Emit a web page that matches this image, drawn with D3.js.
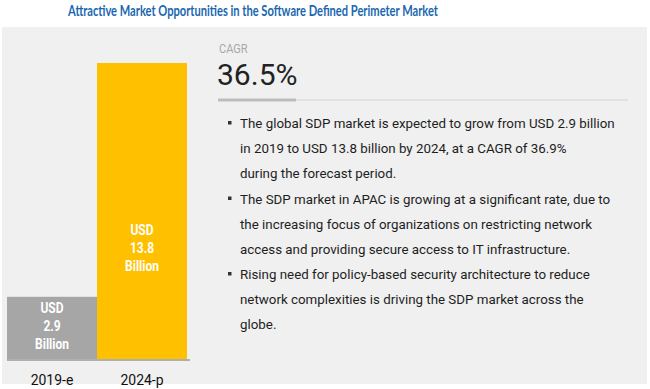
<!DOCTYPE html>
<html><head><meta charset="utf-8">
<script src="https://cdn.jsdelivr.net/npm/d3@7"></script>
<style>body{margin:0;background:#fff;}svg{display:block;}</style>
</head><body>
<svg id="c" width="650" height="389"></svg>
<script>
const title = "Attractive Market Opportunities in the Software Defined Perimeter Market";
const categories = ["2019-e", "2024-p"];
const values = [2.9, 13.8];
const valueLabels = [["USD", "2.9", "Billion"], ["USD", "13.8", "Billion"]];
const barColors = ["#a6a6a6", "#ffc000"];
const cagrLabel = "CAGR";
const cagrValue = "36.5%";
const bullets = [
  ["The global SDP market is expected to grow from USD 2.9 billion", "in 2019 to USD 13.8 billion by 2024, at a CAGR of 36.9%", "during the forecast period."],
  ["The SDP market in APAC is growing at a significant rate, due to", "the increasing focus of organizations on restricting network", "access and providing secure access to IT infrastructure."],
  ["Rising need for policy-based security architecture to reduce", "network complexities is driving the SDP market across the", "globe."]
];

const svg = d3.select("#c");
function fit(sel, w) {
  const n = sel.node();
  const fs = parseFloat(sel.attr("font-size"));
  const cur = n.getComputedTextLength();
  sel.attr("font-size", (fs * w / cur).toFixed(2));
}
function squeeze(sel, f) {
  const w = sel.node().getComputedTextLength();
  sel.attr("textLength", (w * f).toFixed(2)).attr("lengthAdjust", "spacingAndGlyphs");
}

svg.append("rect").attr("x", 2).attr("y", 27).attr("width", 645).attr("height", 357).attr("fill", "#f0f0f0");

const t = svg.append("text").attr("x", 253).attr("y", 16).attr("text-anchor", "middle")
  .attr("font-family", "Lato, 'Open Sans', sans-serif").attr("font-weight", "bold")
  .attr("font-size", 15).attr("fill", "#1a67b0").text(title)
  .attr("textLength", 370).attr("lengthAdjust", "spacingAndGlyphs");

const x = d3.scaleBand().domain(categories).range([7, 187]).padding(0);
const y = d3.scaleLinear().domain([0, 13.8]).range([359, 63]);

svg.selectAll("rect.bar").data(values).join("rect").attr("class", "bar")
  .attr("x", (d, i) => x(categories[i])).attr("width", x.bandwidth())
  .attr("y", d => y(d)).attr("height", d => y(0) - y(d))
  .attr("fill", (d, i) => barColors[i]);

svg.append("line").attr("x1", 7).attr("x2", 190).attr("y1", 360).attr("y2", 360)
  .attr("stroke", "#9a9a9a").attr("stroke-width", 1.5);

const labelFont = "'Roboto', sans-serif";
values.forEach((v, i) => {
  const cx = x(categories[i]) + x.bandwidth() / 2;
  const top = i === 0 ? y(v) + 16 : 235;
  valueLabels[i].forEach((s, j) => {
    const tx = svg.append("text").attr("x", cx).attr("y", top + j * 18).attr("text-anchor", "middle")
      .attr("font-family", labelFont).attr("font-weight", "bold").attr("font-size", 15)
      .attr("fill", "#fff").text(s);
    squeeze(tx, 0.8);
  });
  const cl = svg.append("text").attr("x", cx).attr("y", 385).attr("text-anchor", "middle")
    .attr("font-family", "Roboto, sans-serif").attr("font-size", 15.5).attr("fill", "#111")
    .text(categories[i]);
  squeeze(cl, 0.9);
});

const cg = svg.append("text").attr("x", 219).attr("y", 53).attr("font-family", "Roboto, sans-serif")
  .attr("font-size", 13).attr("fill", "#a8a8a8").text(cagrLabel);
squeeze(cg, 0.85);
svg.append("text").attr("x", 217).attr("y", 85).attr("font-family", "Roboto, sans-serif")
  .attr("font-size", 30).attr("fill", "#222").text(cagrValue);
svg.append("line").attr("x1", 218).attr("x2", 628).attr("y1", 100).attr("y2", 100)
  .attr("stroke", "#dedede").attr("stroke-width", 1.5);
svg.append("line").attr("x1", 218).attr("x2", 296).attr("y1", 100).attr("y2", 100)
  .attr("stroke", "#bdbdbd").attr("stroke-width", 3);

const probe = svg.append("text").attr("font-family", "Roboto, sans-serif").attr("font-size", 14).text(bullets[0][0]);
fit(probe, 375);
const fsB = parseFloat(probe.attr("font-size"));
probe.remove();

bullets.forEach((b, i) => {
  const y0 = 128 + i * 75.5;
  svg.append("rect").attr("x", 228).attr("y", y0 - 7).attr("width", 3.5).attr("height", 3.5).attr("fill", "#333");
  b.forEach((line, j) => {
    svg.append("text").attr("x", 240).attr("y", y0 + j * 25).attr("font-family", "Roboto, sans-serif")
      .attr("font-size", fsB).attr("fill", "#1e1e1e").text(line);
  });
});
</script>
</body></html>
